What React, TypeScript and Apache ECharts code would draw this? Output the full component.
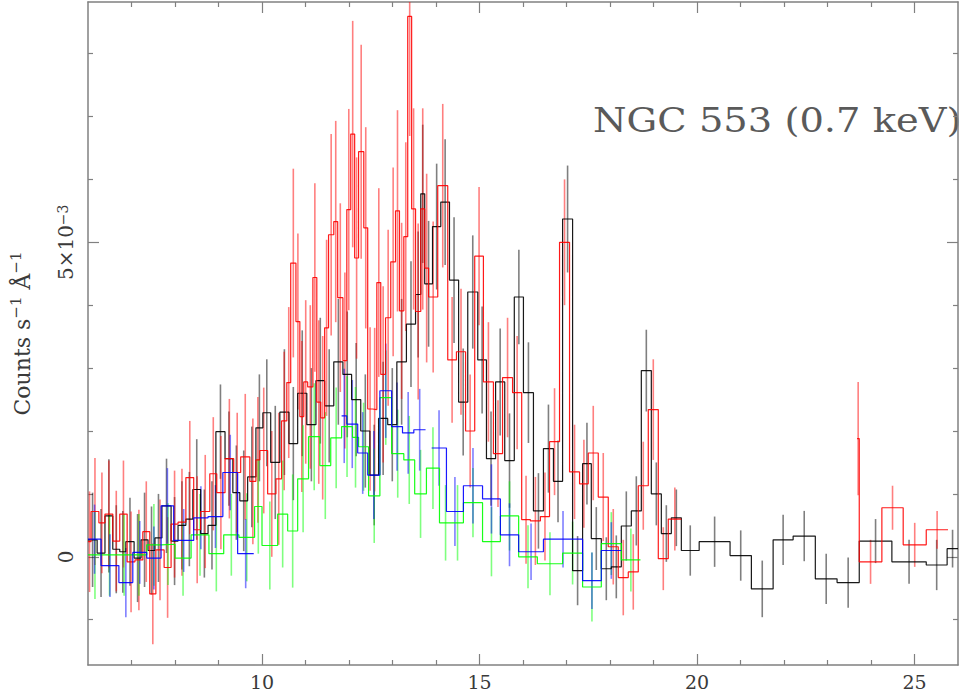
import React, { useEffect, useRef } from "react";
import * as echarts from "echarts";

// Axis extents (wavelength in Å, rate in units of 1e-3 counts s^-1 Å^-1)
const X_MIN = 6;
const X_MAX = 26;
const Y_MIN = -1.72;
const Y_MAX = 8.82;

const xMajorTicks = [10, 15, 20, 25];
const xMinorTicks = [7, 8, 9, 11, 12, 13, 14, 16, 17, 18, 19, 21, 22, 23, 24];
const yMajorTicks = [0, 5];
const yMinorTicks = [-1, 1, 2, 3, 4, 6, 7, 8];

const titleText = "NGC 553 (0.7 keV)";

// ---- black spectrum ----
const blackEdges = [
  6.0, 6.21, 6.39, 6.57, 6.73, 6.87, 7.06, 7.22, 7.38, 7.54,
  7.7, 7.91, 8.07, 8.25, 8.41, 8.59, 8.76, 8.94, 9.15, 9.33,
  9.49, 9.67, 9.86, 10.02, 10.2, 10.41, 10.62, 10.82, 11.03, 11.24,
  11.44, 11.65, 11.86, 12.06, 12.27, 12.48, 12.68, 12.89, 13.1, 13.32,
  13.53, 13.65, 13.74, 13.92, 14.11, 14.31, 14.52, 14.73, 14.96, 15.16,
  15.37, 15.58, 15.8, 16.01, 16.24, 16.47, 16.7, 16.91, 17.14, 17.37,
  17.57, 17.8, 18.03, 18.26, 18.49, 18.72, 18.95, 19.18, 19.41, 19.64,
  20.05, 20.76, 21.25, 21.75, 22.21, 22.72, 23.22, 23.73, 24.48, 25.27,
  25.75, 26.0,
];
const blackRate = [
  0.27, 0.06, 0.65, 0.12, 0.08, 0.24, -0.02, 0.27, 0.1, 0.3,
  0.81, 0.25, 0.5, 0.6, 1.07, 0.37, 0.5, 1.99, 1.56, 1.02,
  0.89, 1.27, 2.05, 2.29, 1.5, 2.3, 1.8, 2.6, 2.1, 2.8,
  2.4, 3.1, 2.9, 2.5, 2.0, 1.3, 2.2, 2.1, 3.1, 3.7,
  4.17, 5.77, 4.34, 5.25, 5.64, 4.4, 2.46, 4.21, 3.13, 1.56,
  2.78, 1.53, 4.13, 2.61, 0.73, 1.72, 1.2, 5.37, -0.22, 1.48,
  0.29, -0.19, -0.16, 0.49, 0.73, 2.96, 1.0, 0.37, 0.62, 0.1,
  0.24, 0.02, -0.51, 0.27, 0.33, -0.35, -0.41, 0.25, -0.08, -0.13,
  0.13,
];
const blackErr = [
  0.75, 0.7, 0.9, 0.7, 0.65, 0.7, 0.7, 0.75, 0.7, 0.7,
  0.75, 0.7, 0.7, 0.75, 0.8, 0.7, 0.7, 0.75, 0.75, 0.75,
  0.8, 0.8, 0.85, 0.85, 0.9, 1.0, 0.9, 1.0, 0.9, 1.0,
  0.9, 1.0, 1.0, 0.9, 0.9, 0.8, 0.9, 0.9, 1.0, 1.0,
  1.0, 1.1, 1.0, 1.0, 1.0, 1.0, 0.85, 0.9, 0.85, 0.75,
  0.85, 0.75, 0.75, 0.8, 0.6, 0.7, 0.65, 0.85, 0.55, 0.65,
  0.5, 0.5, 0.5, 0.55, 0.55, 0.65, 0.5, 0.45, 0.45, 0.4,
  0.4, 0.4, 0.45, 0.4, 0.4, 0.4, 0.4, 0.35, 0.35, 0.4,
  0.3,
];

// ---- red spectrum ----
const redEdges = [
  6.0, 6.07, 6.25, 6.39, 6.57, 6.73, 6.9, 7.08, 7.26, 7.42,
  7.56, 7.75, 7.91, 8.07, 8.25, 8.43, 8.59, 8.8, 8.96, 9.15,
  9.35, 9.51, 9.72, 9.86, 9.95, 10.13, 10.32, 10.45, 10.57, 10.66,
  10.78, 10.87, 10.96, 11.05, 11.17, 11.26, 11.35, 11.44, 11.53, 11.65,
  11.74, 11.86, 11.95, 12.04, 12.13, 12.22, 12.34, 12.43, 12.54, 12.64,
  12.73, 12.84, 12.96, 13.07, 13.16, 13.26, 13.35, 13.44, 13.53, 13.65,
  13.74, 13.83, 14.04, 14.27, 14.47, 14.68, 14.89, 15.09, 15.32, 15.53,
  15.76, 15.97, 16.17, 16.4, 16.61, 16.84, 17.07, 17.3, 17.5, 17.73,
  17.96, 18.19, 18.42, 18.65, 18.88, 19.11, 19.34, 19.64, 23.68, 23.73,
  24.25, 24.74, 25.27, 25.77,
];
const redRate = [
  0.24, 0.72, 0.54, 0.68, 0.25, 0.68, -0.08, -0.05, 0.4, -0.59,
  0.11, -0.17, 0.52, 0.55, 1.26, 0.43, 0.72, 1.32, 1.02, 1.56,
  1.34, 1.59, 1.2, 1.54, 1.69, 1.0, 1.24, 2.16, 2.77, 4.67,
  3.74, 2.23, 2.78, 2.7, 4.44, 2.46, 2.21, 3.64, 5.12, 5.33,
  4.12, 3.12, 5.52, 6.72, 4.75, 6.44, 5.23, 2.35, 2.34, 4.36,
  2.9, 3.8, 4.69, 5.5, 3.91, 5.09, 8.59, 5.53, 3.9, 5.53,
  4.59, 4.13, 5.9, 3.13, 3.26, 2.0, 4.78, 2.78, 1.64, 2.85,
  2.61, 0.59, 0.57, 0.64, 1.83, 5.0, 1.35, 1.16, 1.65, 0.95,
  0.16, -0.33, -0.24, 1.13, 2.34, -0.03, 0.6, null, 1.88, -0.08,
  0.78, 0.19, 0.43,
];
const redErr = [
  0.8, 0.85, 0.8, 0.85, 0.8, 0.85, 0.8, 0.8, 0.8, 0.8,
  0.8, 0.8, 0.85, 0.85, 0.9, 0.85, 0.9, 0.9, 0.9, 0.95,
  0.95, 1.0, 1.0, 1.0, 1.0, 1.0, 1.05, 1.1, 1.2, 1.5,
  1.4, 1.2, 1.3, 1.3, 1.5, 1.3, 1.3, 1.4, 1.6, 1.6,
  1.5, 1.4, 1.6, 1.8, 1.6, 1.7, 1.6, 1.3, 1.3, 1.5,
  1.4, 1.4, 1.5, 1.6, 1.4, 1.5, 1.9, 1.6, 1.4, 1.6,
  1.5, 1.2, 1.3, 1.0, 1.0, 0.9, 1.1, 0.95, 0.85, 0.95,
  0.9, 0.7, 0.7, 0.7, 0.85, 1.0, 0.75, 0.7, 0.75, 0.7,
  0.6, 0.6, 0.6, 0.7, 0.8, 0.5, 0.5, null, 0.9, 0.35,
  0.35, 0.35, 0.3,
];

// ---- green spectrum ----
const greenEdges = [
  6.0, 6.32, 6.67, 6.99, 7.35, 7.68, 8.0, 8.37, 8.78, 9.12,
  9.47, 9.83, 10.0, 10.36, 10.59, 10.82, 11.07, 11.33, 11.58, 11.83,
  12.08, 12.22, 12.45, 12.71, 12.98, 13.26, 13.51, 13.78, 14.08, 14.36,
  14.63, 15.07, 15.48, 15.9, 16.33, 16.91, 17.37, 17.8, 18.26, 18.7,
];
const greenRate = [
  0.03, 0.03, 0.03, 0.03, 0.19, 0.2, -0.02, 0.35, 0.05, 0.35,
  0.31, 0.8, 0.18, 0.68, 0.41, 1.24, 1.91, 1.45, 1.89, 2.07,
  1.9, 1.75, 0.97, 2.53, 1.64, 1.54, 1.0, 1.41, 0.54, 0.54,
  0.86, 0.24, 0.65, 0.0, -0.11, 0.06, -0.48, 0.21, -0.05,
];
const greenErr = [
  0.7, 0.65, 0.65, 0.65, 0.65, 0.65, 0.6, 0.65, 0.6, 0.65,
  0.7, 0.75, 0.7, 0.85, 0.9, 0.85, 0.85, 0.85, 0.8, 0.8,
  0.8, 0.7, 0.75, 0.75, 0.7, 0.7, 0.7, 0.65, 0.6, 0.6,
  0.55, 0.55, 0.55, 0.5, 0.5, 0.5, 0.55, 0.5, 0.5,
];

// ---- blue spectrum ----
const blueEdges = [
  6.0, 6.3, 6.71, 7.03, 7.35, 7.68, 7.97, 8.43, 8.76, 9.1,
  9.44, 9.81, 11.83, 11.95, 12.2, 12.43, 12.71, 12.98, 13.23, 13.49,
  13.76, 13.9, 14.24, 14.63, 15.07, 15.48, 15.9, 16.47, 17.37, 17.8,
  18.26,
];
const blueRate = [
  0.28, -0.14, -0.41, 0.07, -0.02, 0.81, 0.26, 0.62, 0.64, 1.34,
  0.05, null, 2.24, 2.11, 1.65, 1.3, 2.64, 2.07, 1.97, 2.02,
  null, 1.73, 0.72, 1.13, 0.92, 0.35, 0.08, 0.28, -0.38, 0.1,
];
const blueErr = [
  0.55, 0.5, 0.55, 0.5, 0.5, 0.6, 0.5, 0.5, 0.5, 0.6,
  0.55, null, 0.75, 0.7, 0.65, 0.7, 0.75, 0.7, 0.65, 0.65,
  null, 0.6, 0.55, 0.6, 0.55, 0.5, 0.45, 0.45, 0.45, 0.45,
];

const FONT = '"DejaVu Serif", "Liberation Serif", serif';
const FRAME = "#808080";
const TEXT = "#3a3a3a";

function stepData(edges: number[], vals: (number | null)[]) {
  const pts: any[] = [];
  for (let i = 0; i < vals.length; i++) {
    const v = vals[i];
    if (v === null) {
      pts.push([edges[i], "-"]);
      continue;
    }
    pts.push([edges[i], v], [edges[i + 1], v]);
  }
  return pts;
}

function errData(edges: number[], vals: (number | null)[], errs: (number | null)[]) {
  const out: number[][] = [];
  for (let i = 0; i < vals.length; i++) {
    const v = vals[i];
    const e = errs[i];
    if (v === null || e === null) continue;
    out.push([(edges[i] + edges[i + 1]) / 2, v - e, v + e]);
  }
  return out;
}

function spectrumSeries(name: string, color: string, edges: number[], vals: (number | null)[], errs: (number | null)[]) {
  return [
    {
      name: name + "-err",
      type: "custom",
      clip: true,
      silent: true,
      encode: { x: 0, y: [1, 2] },
      data: errData(edges, vals, errs),
      renderItem: (_p: any, api: any) => {
        const a = api.coord([api.value(0), api.value(1)]);
        const b = api.coord([api.value(0), api.value(2)]);
        return {
          type: "line",
          shape: { x1: a[0], y1: a[1], x2: b[0], y2: b[1] },
          style: { stroke: color, lineWidth: 1.6, opacity: 0.5 },
        };
      },
    },
    {
      name,
      type: "line",
      clip: true,
      silent: true,
      showSymbol: false,
      symbol: "none",
      connectNulls: false,
      data: stepData(edges, vals),
      lineStyle: { color, width: 1.2, opacity: 0.9 },
    },
  ];
}

function xAxisDef(position: string, ticks: number[], len: number, showLine: boolean, labels: boolean) {
  return {
    type: "value",
    position,
    min: X_MIN,
    max: X_MAX,
    axisLine: { show: showLine, onZero: false, lineStyle: { color: FRAME, width: 1.5 } },
    axisTick: { show: true, inside: true, length: len, customValues: ticks, lineStyle: { color: FRAME, width: 1.2 } },
    axisLabel: labels
      ? { show: true, customValues: ticks, margin: 7, fontFamily: FONT, fontSize: 19, lineHeight: 20, color: TEXT }
      : { show: false },
    splitLine: { show: false },
  };
}

function yAxisDef(position: string, ticks: number[], len: number, showLine: boolean, labels: boolean) {
  const base: any = {
    type: "value",
    position,
    min: Y_MIN,
    max: Y_MAX,
    axisLine: { show: showLine, onZero: false, lineStyle: { color: FRAME, width: 1.5 } },
    axisTick: { show: true, inside: true, length: len, customValues: ticks, lineStyle: { color: FRAME, width: 1.2 } },
    axisLabel: { show: false },
    splitLine: { show: false },
  };
  if (labels) {
    base.axisLabel = {
      show: true,
      customValues: ticks,
      rotate: 90,
      margin: 12,
      fontFamily: FONT,
      fontSize: 20,
      color: TEXT,
      formatter: (v: number) => (v === 0 ? "0" : v === 5 ? "5×10{s|−3}" : ""),
      rich: {
        s: { fontFamily: FONT, fontSize: 14, color: TEXT, verticalAlign: "top", lineHeight: 14 },
      },
    };
    base.name = "Counts s{s|−1} Å{s|−1}";
    base.nameLocation = "middle";
    base.nameGap = 52;
    base.nameRotate = 90;
    base.nameTextStyle = {
      fontFamily: FONT,
      fontSize: 22,
      color: TEXT,
      lineHeight: 28,
      rich: {
        s: { fontFamily: FONT, fontSize: 15, color: TEXT, verticalAlign: "top", lineHeight: 15 },
      },
    };
  }
  return base;
}

export default function App() {
  const ref = useRef<HTMLDivElement>(null);
  useEffect(() => {
    if (!ref.current) return;
    const chart = echarts.init(ref.current, undefined, { renderer: "svg" });
    chart.setOption({
      animation: false,
      backgroundColor: "#ffffff",
      grid: { left: 87, right: 5, top: 2, bottom: 30, containLabel: false },
      xAxis: [
        xAxisDef("bottom", xMajorTicks, 11, true, true),
        xAxisDef("bottom", xMinorTicks, 5, false, false),
        xAxisDef("top", xMajorTicks, 11, true, false),
        xAxisDef("top", xMinorTicks, 5, false, false),
      ],
      yAxis: [
        yAxisDef("left", yMajorTicks, 11, true, true),
        yAxisDef("left", yMinorTicks, 5, false, false),
        yAxisDef("right", yMajorTicks, 11, true, false),
        yAxisDef("right", yMinorTicks, 5, false, false),
      ],
      graphic: [
        {
          type: "text",
          x: 593,
          y: 120,
          scaleX: 1.13,
          silent: true,
          style: {
            text: titleText,
            font: `34px ${FONT}`,
            fill: "#5a5a5a",
            align: "left",
            verticalAlign: "middle",
          },
        },
      ],
      series: [
        ...spectrumSeries("black", "#000000", blackEdges, blackRate, blackErr),
        ...spectrumSeries("red", "#ff0000", redEdges, redRate, redErr),
        ...spectrumSeries("green", "#00ff00", greenEdges, greenRate, greenErr),
        ...spectrumSeries("blue", "#0000ff", blueEdges, blueRate, blueErr),
      ],
    });
    return () => chart.dispose();
  }, []);
  return (
    <div
      ref={ref}
      style={{ position: "fixed", left: 0, top: 0, width: 963, height: 695, background: "#fff" }}
    />
  );
}
